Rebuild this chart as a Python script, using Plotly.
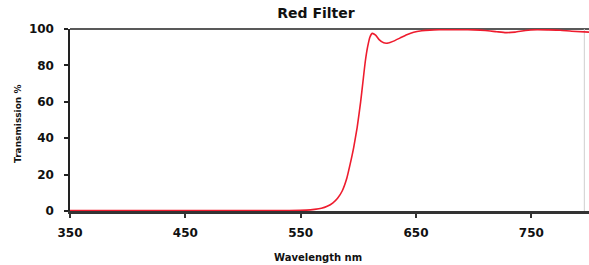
import plotly.graph_objects as go

wavelength = [350, 400, 450, 500, 540, 555, 562, 568, 573, 578, 582, 586, 590, 593, 596, 599, 602, 604, 606, 608, 610, 612, 615, 618, 622, 626, 630, 636, 642, 648, 655, 662, 670, 680, 690, 700, 710, 720, 728, 736, 745, 755, 765, 775, 785, 800]
transmission = [0.3, 0.3, 0.3, 0.3, 0.3, 0.5, 0.9, 1.5, 2.6, 4.5, 7.0, 11, 18, 26, 35, 46, 60, 71, 82, 90, 95.5, 97.6, 96.6, 94.2, 92.4, 92.3, 93.2, 95, 96.8, 98.2, 99, 99.4, 99.6, 99.7, 99.6, 99.5, 99.2, 98.5, 98.0, 98.3, 99.2, 99.6, 99.5, 99.3, 98.8, 98.3]

x_ticks = [350, 450, 550, 650, 750]
y_ticks = [0, 20, 40, 60, 80, 100]

fig = go.Figure()
fig.add_trace(go.Scatter(
    x=wavelength, y=transmission, mode="lines",
    line=dict(color="#ee1c2e", width=1.6, shape="spline", smoothing=0.5),
    hoverinfo="skip", showlegend=False,
))

font = "DejaVu Sans, Liberation Sans, sans-serif"
tickfont = dict(family=font, size=12, color="#111")
fig.update_layout(
    width=589, height=265,
    margin=dict(l=70, r=0, t=29, b=54),
    paper_bgcolor="white", plot_bgcolor="white",
    title=dict(text="<b>Red Filter</b>", xref="container", x=316 / 589, xanchor="center",
               yref="container", y=1 - 13 / 265, yanchor="middle",
               font=dict(family=font, size=14, color="#111")),
    xaxis=dict(range=[350, 800], tickvals=x_ticks, ticktext=[f"<b>{v}</b>" for v in x_ticks],
               ticks="outside", ticklen=4, tickwidth=1.5, ticklabelstandoff=5,
               tickcolor="#333", showline=True, linecolor="#333", linewidth=2.5, showgrid=False,
               zeroline=False, tickfont=tickfont, automargin=False),
    yaxis=dict(range=[0, 100], tickvals=y_ticks, ticktext=[f"<b>{v}</b>\u00a0\u00a0" for v in y_ticks],
               ticks="outside", ticklen=4, tickwidth=1.5,
               tickcolor="#222", showline=True, linecolor="#222", linewidth=2, showgrid=False,
               zeroline=False, tickfont=tickfont, automargin=False),
    annotations=[
        dict(text="<b>Wavelength nm</b>", xref="paper", yref="paper",
             x=(317.5 - 70) / 519, y=-(257 - 211) / 182, xanchor="center", yanchor="middle",
             showarrow=False, font=dict(family=font, size=10, color="#111")),
        dict(text="<b>Transmission %</b>", xref="paper", yref="paper", textangle=-90,
             x=-(70 - 18) / 519, y=(211 - 124) / 182, xanchor="center", yanchor="middle",
             showarrow=False, font=dict(family=font, size=9, color="#111")),
    ],
    shapes=[
        dict(type="line", xref="paper", yref="paper", x0=0, x1=1, y0=1, y1=1,
             line=dict(color="#222", width=1.5), layer="below"),
        dict(type="line", xref="paper", yref="paper", x0=0.991, x1=0.991, y0=0, y1=1,
             line=dict(color="#cfcfcf", width=1), layer="below"),
    ],
)

fig.write_html("out.html", config={"displayModeBar": False},
               post_script="document.body.style.margin='0px';")
